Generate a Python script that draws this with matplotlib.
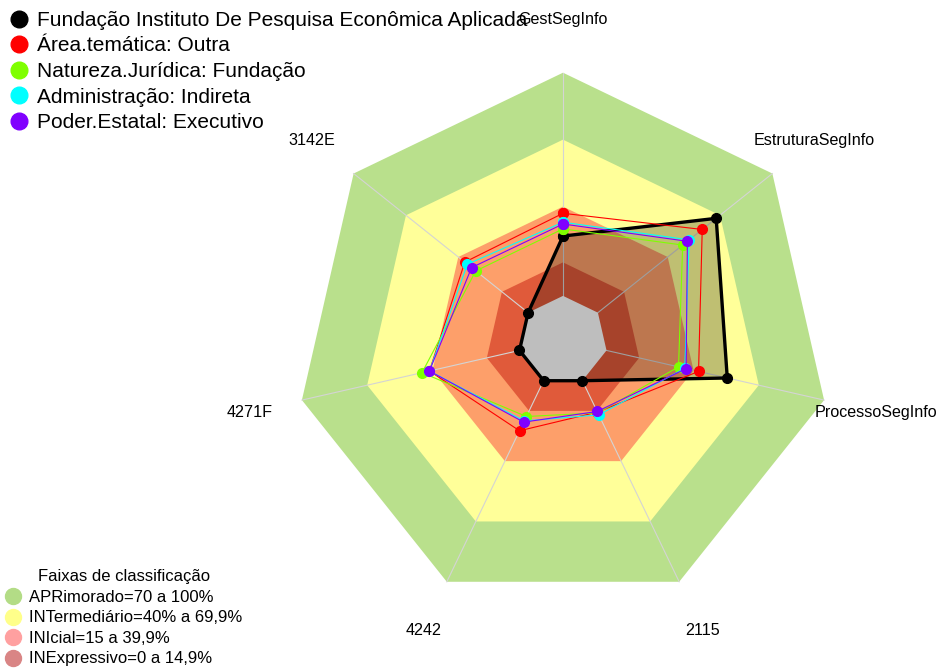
import numpy as np
import matplotlib
matplotlib.use("Agg")
import matplotlib.pyplot as plt
from matplotlib.lines import Line2D

plt.rcParams["font.family"] = ["Liberation Sans", "DejaVu Sans"]

categories = ["GestSegInfo", "EstruturaSegInfo", "ProcessoSegInfo", "2115",
              "4242", "4271F", "3142E"]

series_names = [
    "Fundação Instituto De Pesquisa Econômica Aplicada",
    "Área.temática: Outra",
    "Natureza.Jurídica: Fundação",
    "Administração: Indireta",
    "Poder.Estatal: Executivo",
]
series_colors = ["#000000", "#ff0000", "#7fff00", "#00ffff", "#8000ff"]

fundacao = [0.268, 0.678, 0.555, 0.0, 0.0, 0.0, 0.0]
area_tematica = [0.370, 0.598, 0.423, 0.156, 0.249, 0.414, 0.363]
natureza = [0.300, 0.486, 0.331, 0.160, 0.178, 0.448, 0.300]
administracao = [0.330, 0.523, 0.360, 0.170, 0.200, 0.414, 0.348]
poder = [0.322, 0.513, 0.366, 0.153, 0.206, 0.414, 0.324]
series_values = [fundacao, area_tematica, natureza, administracao, poder]

band_levels = [1.0, 0.70, 0.40, 0.15]
band_colors = ["#b9e08c", "#ffff99", "#fd9f6a", "#e05a3a"]
band_labels = ["APRimorado=70 a 100%", "INTermediário=40% a 69,9%",
               "INIcial=15 a 39,9%", "INExpressivo=0 a 14,9%"]
legend_band_colors = ["#b3dc86", "#ffff8a", "#ffa0a0", "#d98585"]

hub = 1 / 6
n = len(categories)
theta = np.pi / 2 - 2 * np.pi * np.arange(n) / n


def to_xy(values):
    r = hub + (1 - hub) * np.asarray(values, dtype=float)
    x = r * np.cos(theta)
    y = r * np.sin(theta)
    return np.append(x, x[0]), np.append(y, y[0])


W, H = 944, 668
R = 267.8
cx, cy = 563, 340.5

fig = plt.figure(figsize=(W / 100, H / 100), dpi=100)
ax = fig.add_axes([0, 0, 1, 1])
ax.set_xlim(-cx / R, (W - cx) / R)
ax.set_ylim(-(H - cy) / R, cy / R)
ax.axis("off")

# classification bands
for lvl, col in zip(band_levels, band_colors):
    x, y = to_xy([lvl] * n)
    ax.fill(x, y, color=col, lw=0, zorder=1)

# axis spokes
for t in theta:
    ax.plot([hub * np.cos(t), np.cos(t)], [hub * np.sin(t), np.sin(t)],
            color="#d4d4d4", lw=0.8, zorder=3)

# series
for i, (vals, col) in enumerate(zip(series_values, series_colors)):
    x, y = to_xy(vals)
    if i == 0:
        ax.fill(x, y, color="black", alpha=0.25, lw=0, zorder=4)
        ax.plot(x, y, color=col, lw=2.4, marker="o", ms=7, zorder=6)
    else:
        ax.plot(x, y, color=col, lw=0.8, marker="o", ms=7, zorder=6 + i)

# grey centre (minimum)
x, y = to_xy([0] * n)
ax.fill(x, y, color="#bebebe", lw=0, zorder=5)

# category labels
for t, lab in zip(theta, categories):
    ax.text(1.2 * np.cos(t), 1.2 * np.sin(t), lab, ha="center", va="center",
            fontsize=11.6)

handles = [Line2D([], [], ls="", marker="o", ms=12, color=c) for c in series_colors]
fig.legend(handles, series_names, loc="upper left", bbox_to_anchor=(0.006, 0.99),
           frameon=False, fontsize=15, handlelength=0.85, handletextpad=0.45,
           labelspacing=0.315, borderpad=0.2, borderaxespad=0)

band_handles = [Line2D([], [], ls="", marker="o", ms=11.5, color=c)
                for c in legend_band_colors]
fig.legend(band_handles, band_labels, loc="lower left", bbox_to_anchor=(-0.0035, -0.012),
           frameon=False, fontsize=12, title="Faixas de classificação",
           title_fontsize=12, handlelength=0.8, handletextpad=0.55,
           labelspacing=0.33, borderpad=0.58, borderaxespad=0)

fig.savefig("out.png", dpi=100)
